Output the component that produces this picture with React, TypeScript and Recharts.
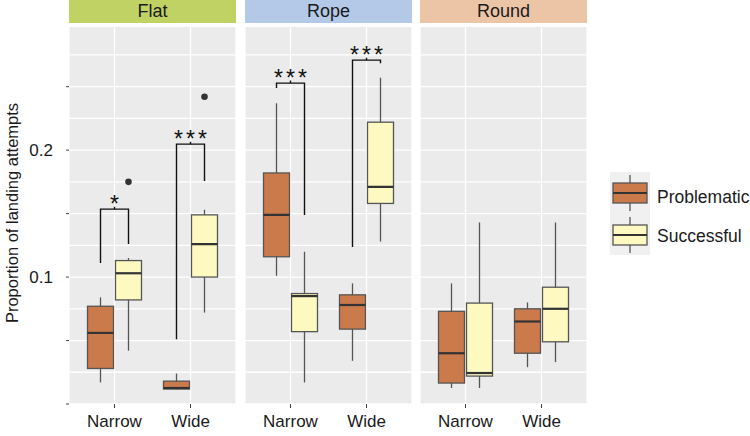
import React from 'react';
import { ComposedChart, Bar, XAxis, YAxis, CartesianGrid } from 'recharts';

const WIDTHS = ['Narrow', 'Wide'];

// box stats per perch width: [min, q1, median, q3, max]
const FLAT_PROBLEMATIC = [[0.017, 0.028, 0.056, 0.077, 0.084], [0.0115, 0.0118, 0.0126, 0.018, 0.024]];
const FLAT_SUCCESSFUL = [[0.042, 0.082, 0.103, 0.113, 0.115], [0.072, 0.1, 0.126, 0.149, 0.153]];
const ROPE_PROBLEMATIC = [[0.101, 0.116, 0.149, 0.182, 0.237], [0.034, 0.059, 0.078, 0.086, 0.095]];
const ROPE_SUCCESSFUL = [[0.017, 0.057, 0.085, 0.087, 0.12], [0.128, 0.158, 0.171, 0.222, 0.257]];
const ROUND_PROBLEMATIC = [[0.0126, 0.0165, 0.04, 0.073, 0.095], [0.029, 0.04, 0.065, 0.075, 0.08]];
const ROUND_SUCCESSFUL = [[0.0126, 0.022, 0.0244, 0.0795, 0.143], [0.033, 0.049, 0.075, 0.092, 0.143]];

// outliers of the successful boxes
const FLAT_OUTLIERS = [[0.175], [0.242]];

// significance brackets: [left leg end, right leg end, top]
const FLAT_BRACKETS = [[0.111, 0.126, 0.1535], [0.051, 0.1756, 0.2047]];
const FLAT_STARS = ['*', '***'];
const ROPE_BRACKETS = [[0.249, 0.1488, 0.2528], [0.1236, 0.2685, 0.2709]];
const ROPE_STARS = ['***', '***'];

const Y_TICKS = [0, 0.05, 0.1, 0.15, 0.2, 0.25];
const GRID_VALUES = [0, 0.025, 0.05, 0.075, 0.1, 0.125, 0.15, 0.175, 0.2, 0.225, 0.25, 0.275];

const FONT = '"Liberation Sans", Arial, sans-serif';
const PROB_FILL = '#cb7a4b';
const SUCC_FILL = '#fdf9c0';
const BOX_W = 26;
const GAP = 2;

const FACETS = [
  { name: 'Flat', strip: '#c0d264', left: 0, prob: FLAT_PROBLEMATIC, succ: FLAT_SUCCESSFUL, out: FLAT_OUTLIERS, brackets: FLAT_BRACKETS, stars: FLAT_STARS },
  { name: 'Rope', strip: '#b4c8e8', left: 245, prob: ROPE_PROBLEMATIC, succ: ROPE_SUCCESSFUL, out: null, brackets: ROPE_BRACKETS, stars: ROPE_STARS },
  { name: 'Round', strip: '#ecc5a7', left: 420, prob: ROUND_PROBLEMATIC, succ: ROUND_SUCCESSFUL, out: null, brackets: null, stars: null },
];

function makeBox(statsKey: string, fill: string, withExtras: boolean) {
  return (p: any) => {
    const { x, y, width, height, payload } = p;
    const s = payload[statsKey];
    const lo = s[0];
    const hi = s[4];
    const py = (v: number) => y + height - ((v - lo) / (hi - lo)) * height;
    const cx = x + width / 2;
    const out: number[] = withExtras ? payload.out : [];
    const br = withExtras ? payload.bracket : null;
    const lx = cx - (BOX_W + GAP);
    return (
      <g>
        <line x1={cx} x2={cx} y1={py(s[4])} y2={py(s[0])} stroke="#555" strokeWidth={1.3} />
        <rect x={x} y={py(s[3])} width={width} height={py(s[1]) - py(s[3])} fill={fill} stroke="#555" strokeWidth={1.3} />
        <line x1={x} x2={x + width} y1={py(s[2])} y2={py(s[2])} stroke="#333" strokeWidth={2.2} />
        {out.map((v, i) => (
          <circle key={i} cx={cx} cy={py(v)} r={3.3} fill="#333" />
        ))}
        {br && (
          <g>
            <polyline
              points={`${lx},${py(br[0])} ${lx},${py(br[2])} ${cx},${py(br[2])} ${cx},${py(br[1])}`}
              fill="none"
              stroke="#111"
              strokeWidth={1.4}
            />
            <line x1={(lx + cx) / 2} x2={(lx + cx) / 2} y1={py(br[2])} y2={py(br[2]) - 2.5} stroke="#111" strokeWidth={1.4} />
            <text x={(lx + cx) / 2 + 1.5} y={py(br[2]) + 3} textAnchor="middle" fontSize={23} fontFamily={FONT} fill="#111" letterSpacing={3}>
              {payload.stars}
            </text>
          </g>
        )}
      </g>
    );
  };
}

function Facet({ f, first }: { f: any; first: boolean }) {
  const rows = WIDTHS.map((w, i) => ({
    width: w,
    prob: [f.prob[i][0], f.prob[i][4]],
    succ: [f.succ[i][0], f.succ[i][4]],
    probStats: f.prob[i],
    succStats: f.succ[i],
    out: f.out ? f.out[i] : [],
    bracket: f.brackets ? f.brackets[i] : null,
    stars: f.stars ? f.stars[i] : '',
  }));
  const axisW = first ? 69 : 0;
  const plotW = 167;
  return (
    <div style={{ position: 'absolute', left: f.left, top: 0, width: axisW + plotW, height: 436 }}>
      <div
        style={{
          position: 'absolute', left: axisW, top: 0, width: plotW, height: 23, background: f.strip,
          fontFamily: FONT, fontSize: 18, color: '#1a1a1a', textAlign: 'center', lineHeight: '23px',
        }}
      >
        {f.name}
      </div>
      <div style={{ position: 'absolute', left: 0, top: 27 }}>
        <ComposedChart
          width={axisW + plotW}
          height={409}
          data={rows}
          margin={{ top: 0, right: 0, bottom: 0, left: 0 }}
          barSize={BOX_W}
          barGap={GAP}
        >
          <CartesianGrid fill="#ebebeb" stroke="#ffffff" strokeWidth={1.3} horizontalValues={GRID_VALUES} />
          <XAxis
            dataKey="width"
            padding={{ left: 7.5, right: 7.5 }}
            axisLine={false}
            tickSize={4}
            tickMargin={7}
            tickLine={{ stroke: '#444' }}
            tick={{ fill: '#1a1a1a', fontSize: 17, fontFamily: FONT }}
            height={32}
          />
          <YAxis
            type="number"
            domain={[0, 0.297]}
            ticks={Y_TICKS}
            hide={!first}
            width={axisW}
            axisLine={false}
            tickSize={3}
            tickMargin={13}
            tickLine={{ stroke: '#444' }}
            tick={{ fill: '#1a1a1a', fontSize: 17, fontFamily: FONT }}
            tickFormatter={(v: number) => (v === 0.1 || v === 0.2 ? v.toFixed(1) : '')}
            allowDataOverflow
          />
          <Bar dataKey="prob" isAnimationActive={false} shape={makeBox('probStats', PROB_FILL, false)} />
          <Bar dataKey="succ" isAnimationActive={false} shape={makeBox('succStats', SUCC_FILL, true)} />
        </ComposedChart>
      </div>
    </div>
  );
}

export default function App() {
  return (
    <div style={{ position: 'absolute', left: 0, top: 0, width: 750, height: 436, background: '#fff', overflow: 'hidden' }}>
      {FACETS.map((f, i) => (
        <Facet key={f.name} f={f} first={i === 0} />
      ))}
      <svg width={750} height={436} style={{ position: 'absolute', left: 0, top: 0, pointerEvents: 'none' }}>
        <text
          transform="translate(12,213) rotate(-90)"
          textAnchor="middle"
          dominantBaseline="central"
          fontSize={16.5}
          fontFamily={FONT}
          fill="#1a1a1a"
        >
          Proportion of landing attempts
        </text>
        <rect x={610} y={172} width={40} height={83} fill="#f0f0f0" />
        {[PROB_FILL, SUCC_FILL].map((c, i) => {
          const top = 183 + i * 42;
          return (
            <g key={i}>
              <line x1={630} x2={630} y1={top - 8} y2={top + 28} stroke="#555" strokeWidth={1.3} />
              <rect x={613} y={top} width={34} height={20} fill={c} stroke="#555" strokeWidth={1.3} />
              <line x1={613} x2={647} y1={top + 10} y2={top + 10} stroke="#333" strokeWidth={2} />
            </g>
          );
        })}
        <text x={657} y={197} dominantBaseline="central" fontSize={17.5} fontFamily={FONT} fill="#1a1a1a">Problematic</text>
        <text x={657} y={236} dominantBaseline="central" fontSize={17.5} fontFamily={FONT} fill="#1a1a1a">Successful</text>
      </svg>
    </div>
  );
}
